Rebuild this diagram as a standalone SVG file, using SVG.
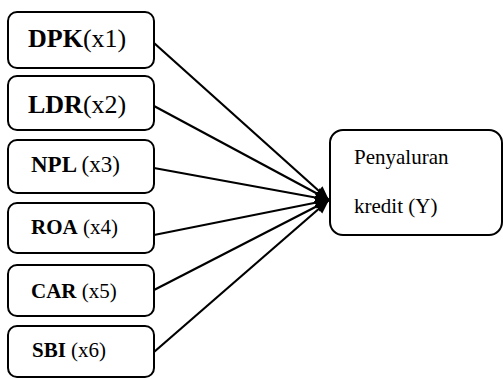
<svg xmlns="http://www.w3.org/2000/svg" width="503" height="379" viewBox="0 0 503 379">
<style>
.box{fill:#fff;stroke:#000;stroke-width:2}
.t{font-family:'Liberation Serif','Times New Roman',serif;fill:#000}
.b{font-weight:bold}
.c{stroke:#000;stroke-width:2.2;fill:none;marker-end:url(#ah)}
</style>
<defs>
<marker id="ah" markerUnits="userSpaceOnUse" markerWidth="14" markerHeight="12" refX="12" refY="5" orient="auto" viewBox="0 0 12 10">
<path d="M0,0 L12,5 L0,10 Z" fill="#000"/>
</marker>
</defs>
<rect width="503" height="379" fill="#fff"/>
<g id="connectors">
<line class="c" x1="154" y1="43" x2="329" y2="200"/>
<line class="c" x1="154" y1="106" x2="329" y2="200"/>
<line class="c" x1="154" y1="168" x2="329" y2="200"/>
<line class="c" x1="154" y1="235" x2="329" y2="200"/>
<line class="c" x1="154" y1="290" x2="329" y2="200"/>
<line class="c" x1="154" y1="352" x2="329" y2="200"/>
</g>
<g id="dpk">
<rect class="box" x="8" y="12" width="146" height="56" rx="9"/>
<text class="t" x="28" y="47" font-size="26"><tspan class="b">DPK</tspan>(x1)</text>
</g>
<g id="ldr">
<rect class="box" x="8" y="76" width="146" height="54" rx="9"/>
<text class="t" x="28" y="113" font-size="26"><tspan class="b">LDR</tspan>(x2)</text>
</g>
<g id="npl">
<rect class="box" x="8" y="140" width="146" height="53" rx="9"/>
<text class="t" x="31" y="172" font-size="23"><tspan class="b">NPL </tspan>(x3)</text>
</g>
<g id="roa">
<rect class="box" x="8" y="203" width="146" height="50" rx="9"/>
<text class="t" x="31" y="234" font-size="21"><tspan class="b">ROA</tspan> (x4)</text>
</g>
<g id="car">
<rect class="box" x="8" y="265" width="146" height="51" rx="9"/>
<text class="t" x="31" y="298" font-size="21"><tspan class="b">CAR</tspan> (x5)</text>
</g>
<g id="sbi">
<rect class="box" x="8" y="326" width="146" height="51" rx="9"/>
<text class="t" x="32" y="357" font-size="21"><tspan class="b">SBI</tspan> (x6)</text>
</g>
<g id="penyaluran">
<rect class="box" x="330" y="130" width="172" height="105" rx="13"/>
<text class="t" x="354" y="164" font-size="21">Penyaluran</text>
<text class="t" x="354" y="213" font-size="21">kredit (Y)</text>
</g>
</svg>
